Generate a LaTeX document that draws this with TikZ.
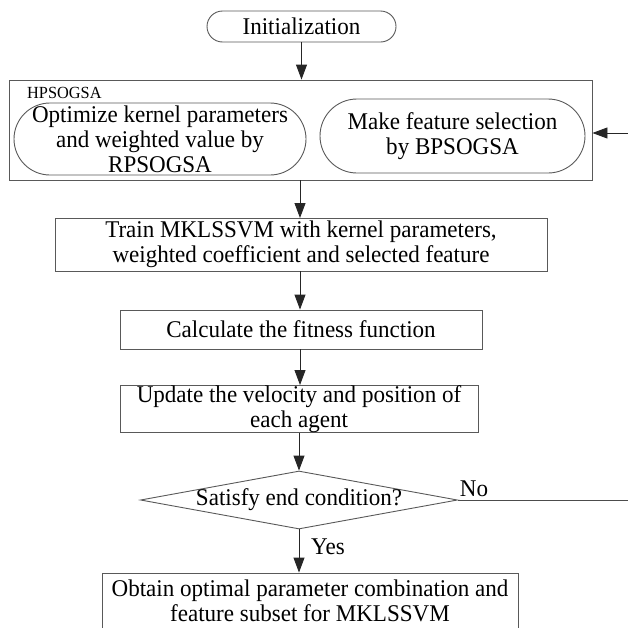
\documentclass[tikz,border=0pt]{standalone}
\usepackage{fontspec}
\setmainfont[FakeStretch=0.96]{Liberation Serif}
\usetikzlibrary{arrows.meta,shapes.geometric}
\begin{document}
\begin{tikzpicture}[x=1pt,y=-1pt,
  every node/.style={font=\fontsize{24}{25}\selectfont, align=center, inner sep=0pt},
  boxline/.style={draw=black!65, line width=0.9pt},
  procbox/.style={boxline, rectangle},
  pill/.style={boxline, rectangle},
  flow/.style={draw=black!85, line width=0.9pt, -{Triangle[length=15pt,width=11pt]}},
  plainline/.style={draw=black!70, line width=0.9pt}
]
\useasboundingbox (0,0) rectangle (628,627);
\begin{scope}
\clip (0,0) rectangle (628,627);
% nodes
\node[pill, rounded corners=15.5pt, minimum width=189pt, minimum height=31pt] (init) at (301.5,26.5) {Initialization};
\node[procbox, minimum width=583pt, minimum height=100pt] (hps) at (300.5,130) {};
\node[font=\fontsize{17}{18}\selectfont, anchor=west] (hlab) at (27,93) {HPSOGSA};
\node[pill, rounded corners=36pt, minimum width=292pt, minimum height=72pt] (left) at (160,139) {Optimize kernel parameters\\and weighted value by\\RPSOGSA};
\node[pill, rounded corners=37pt, minimum width=265pt, minimum height=74pt] (right) at (452.5,136) {Make feature selection\\by BPSOGSA};
\node[procbox, minimum width=492pt, minimum height=53pt] (train) at (301,244.5) {Train MKLSSVM with kernel parameters,\\weighted coefficient and selected feature};
\node[procbox, minimum width=362pt, minimum height=39pt] (calc) at (301,329.5) {Calculate the fitness function};
\node[procbox, minimum width=358pt, minimum height=46pt] (upd) at (299,409) {Update the velocity and position of\\each agent};
\node[boxline, diamond, minimum width=317pt, minimum height=58pt] (dia) at (299,500) {};
\node (diatext) at (299,500) {Satisfy end condition?};
\node[procbox, minimum width=416pt, minimum height=55pt] (obt) at (310,600.5) {Obtain optimal parameter combination and\\feature subset for MKLSSVM};
\node (no) at (474,489) {No};
\node (yes) at (328,547) {Yes};
\coordinate (noend) at (628,500);
\coordinate (fbstart) at (628,133);
% connectors
\draw[flow] (init.south) -- (init.south |- hps.north);
\draw[flow] (hps.south -| 300,0) -- (300,218);
\draw[flow] (train.south -| 300,0) -- (calc.north -| 300,0);
\draw[flow] (calc.south -| 300,0) -- (upd.north -| 300,0);
\draw[flow] (upd.south -| 299,0) -- (dia.north);
\draw[flow] (dia.south) -- (obt.north -| dia.south);
\draw[plainline] (dia.east) -- (noend);
\draw[flow] (fbstart) -- (fbstart -| hps.east);
\end{scope}
\end{tikzpicture}
\end{document}
